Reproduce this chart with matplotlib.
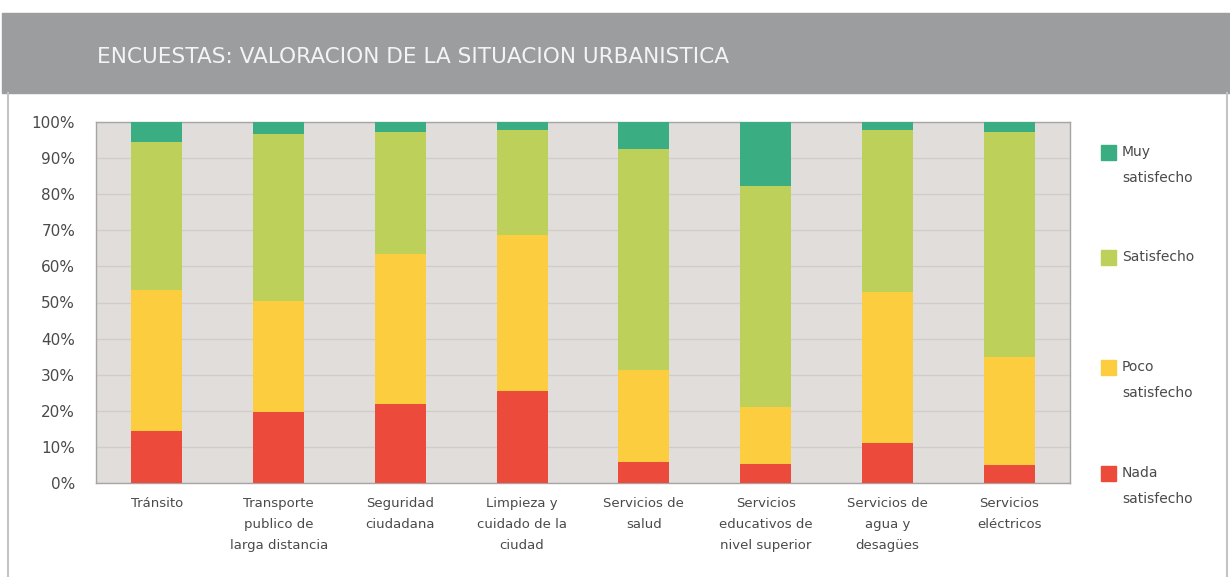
import numpy as np
import matplotlib.pyplot as plt
import matplotlib.patches as patches
from matplotlib.lines import Line2D

# categories and survey shares (%), bottom to top
categories = ["Tránsito", "Transporte\npublico de\nlarga distancia", "Seguridad\nciudadana",
              "Limpieza y\ncuidado de la\nciudad", "Servicios de\nsalud",
              "Servicios\neducativos de\nnivel superior", "Servicios de\nagua y\ndesagües",
              "Servicios\neléctricos"]
nada = [14.5, 19.8, 21.8, 25.5, 5.7, 5.2, 11.0, 5.0]
poco = [39.0, 30.7, 41.7, 43.2, 25.6, 15.9, 42.0, 30.0]
satisfecho = [41.0, 46.2, 33.7, 29.1, 61.1, 61.2, 44.8, 62.2]
muy = [5.5, 3.3, 2.8, 2.2, 7.6, 17.7, 2.2, 2.8]

series_names = ["Nada\nsatisfecho", "Poco\nsatisfecho", "Satisfecho", "Muy\nsatisfecho"]
series_vals = [nada, poco, satisfecho, muy]
colors = ["#ec4b3b", "#fccd3e", "#bdd15a", "#3aae82"]

yticks = [0, 10, 20, 30, 40, 50, 60, 70, 80, 90, 100]
title = "ENCUESTAS: VALORACION DE LA SITUACION URBANISTICA"

plt.rcParams['font.family'] = ['DejaVu Sans']
txt_color = "#4a4a4a"

fig = plt.figure(figsize=(12.3, 5.77), dpi=100)
fig.patch.set_facecolor("white")

# header band
fig.patches.append(patches.Rectangle((2 / 1230, 1 - 93 / 577), 1228 / 1230, 80 / 577,
                                     transform=fig.transFigure, color="#9b9d9f", zorder=0))
fig.text(97 / 1230, 1 - 57 / 577, title, color="#f4f4f4", fontsize=15.6,
         va="center", ha="left")
# panel border
for xx in [8 / 1230, 1227 / 1230]:
    fig.lines.append(Line2D([xx, xx], [0, 1 - 93 / 577], transform=fig.transFigure,
                            color="#c4c4c4", lw=1.5))

ax = fig.add_axes([96 / 1230, 94 / 577, 974 / 1230, 361 / 577])
ax.set_facecolor("#e0dddb")
x = np.arange(len(categories))
bottom = np.zeros(len(categories))
for vals, c in zip(series_vals, colors):
    ax.bar(x, vals, width=0.42, bottom=bottom, color=c, zorder=3)
    bottom += np.array(vals)

ax.set_xlim(-0.5, len(categories) - 0.5)
ax.set_ylim(0, 100)
ax.set_yticks(yticks)
ax.set_yticklabels([f"{t}%" for t in yticks], fontsize=11, color=txt_color)
ax.set_xticks(x)
ax.set_xticklabels(categories, fontsize=9.5, color=txt_color, linespacing=1.8, va="top")
ax.tick_params(axis="both", length=0)
ax.tick_params(axis="x", pad=10)
ax.tick_params(axis="y", pad=15)
ax.grid(axis="y", color="#d0ccc9", lw=0.9, zorder=1)
for s in ax.spines.values():
    s.set_color("#a5a5a5")
    s.set_linewidth(1.0)

# legend, top to bottom
leg_y = [153, 258, 368, 474]
for name, c, yy in zip(series_names[::-1], colors[::-1], leg_y):
    fy = 1 - yy / 577
    fig.patches.append(patches.Rectangle((1101 / 1230, fy - 7 / 577), 15 / 1230, 15 / 577,
                                         transform=fig.transFigure, color=c))
    fig.text(1122 / 1230, fy + 8 / 577, name, fontsize=10, color=txt_color,
             va="top", ha="left", linespacing=2.1)

fig.savefig("out.png", dpi=100)
